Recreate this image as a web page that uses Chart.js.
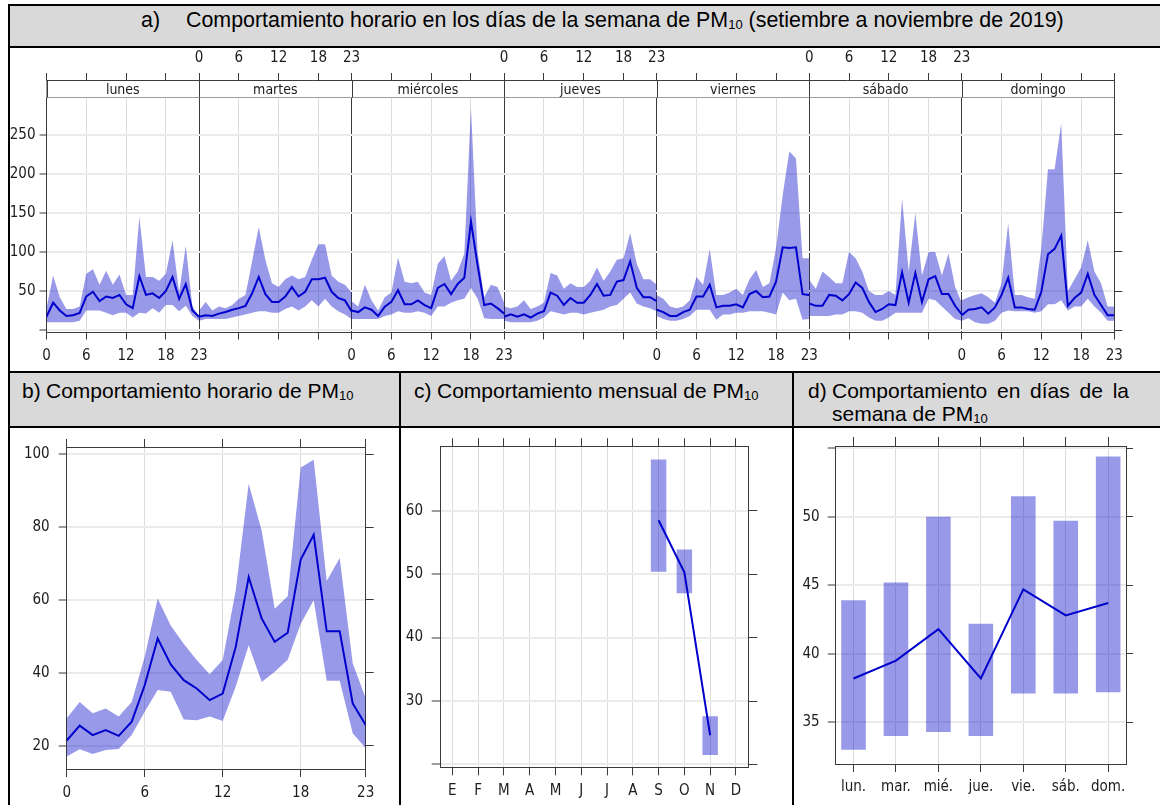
<!DOCTYPE html>
<html lang="es">
<head>
<meta charset="utf-8">
<title>PM10 – comportamiento horario, mensual y semanal</title>
<script src="https://cdn.jsdelivr.net/npm/chart.js@4.4.1/dist/chart.umd.min.js"></script>
<style>
  html, body { margin: 0; padding: 0; background: #fff; }
  body { position: relative; width: 1160px; height: 805px; overflow: hidden;
         font-family: "Liberation Sans", Arial, sans-serif; color: #000; }
  .fill { position: absolute; background: #d9d9d9; }
  .rule { position: absolute; background: #000; }
  .head { position: absolute; font-size: 21px; line-height: 24px; white-space: nowrap; }
  .big { font-size: 21.4px; }
  .sub { font-size: 13px; position: relative; top: 2px; }
  .just { text-align: justify; text-align-last: justify; white-space: normal; }
  canvas { position: absolute; }
</style>
</head>
<body>

<!-- cabeceras grises -->
<div class="fill" style="left:8px;top:4px;width:1152px;height:43px"></div>
<div class="fill" style="left:8px;top:372px;width:1152px;height:55px"></div>

<!-- bordes de la tabla -->
<div class="rule" style="left:8px;top:4px;width:1152px;height:2px"></div>
<div class="rule" style="left:8px;top:46px;width:1152px;height:2px"></div>
<div class="rule" style="left:8px;top:4px;width:2px;height:801px"></div>
<div class="rule" style="left:8px;top:371px;width:1152px;height:2px"></div>
<div class="rule" style="left:8px;top:426px;width:1152px;height:2px"></div>
<div class="rule" style="left:399px;top:371px;width:2px;height:434px"></div>
<div class="rule" style="left:792px;top:371px;width:2px;height:434px"></div>

<!-- títulos -->
<div class="head big" style="left:141px;top:8px">a)</div>
<div class="head big" style="left:186px;top:8px">Comportamiento horario en los días de la semana de PM<span class="sub">10</span> (setiembre a noviembre de 2019)</div>
<div class="head" style="left:22px;top:379px">b)</div>
<div class="head" style="left:46px;top:379px">Comportamiento horario de PM<span class="sub">10</span></div>
<div class="head" style="left:414px;top:379px">c)</div>
<div class="head" style="left:437px;top:379px">Comportamiento mensual de PM<span class="sub">10</span></div>
<div class="head" style="left:808px;top:379px">d)</div>
<div class="head just" style="left:832px;top:379px;width:297px">Comportamiento en días de la</div>
<div class="head" style="left:832px;top:402px">semana de PM<span class="sub">10</span></div>

<canvas id="cSemanaHora" width="1146" height="322" style="left:10px;top:49px;width:1146px;height:322px"></canvas>
<canvas id="cHorario" width="388" height="374" style="left:10px;top:429px;width:388px;height:374px"></canvas>
<canvas id="cMensual" width="389" height="374" style="left:402px;top:429px;width:389px;height:374px"></canvas>
<canvas id="cSemanal" width="363" height="374" style="left:795px;top:429px;width:363px;height:374px"></canvas>

<script>
// ---------- a) PM10 por hora y día de la semana: media e intervalo ----------
const horas = [0,1,2,3,4,5,6,7,8,9,10,11,12,13,14,15,16,17,18,19,20,21,22,23];
const horasEje = [0, 6, 12, 18];
const dias = ['lunes', 'martes', 'miércoles', 'jueves', 'viernes', 'sábado', 'domingo'];

const lunesMedia  = [17,35,25,18,19,22,43,49,37,43,41,45,33,28,69,45,47,41,50,68,40,59,25,17];
const lunesSup    = [28,70,42,27,27,30,72,78,58,76,58,71,45,45,145,68,68,63,72,115,48,108,30,18];
const lunesInf    = [10,10,10,10,10,12,25,25,25,22,19,22,22,16,22,21,28,22,32,32,24,31,18,12];

const martesMedia = [17,19,18,21,23,26,28,31,47,68,46,36,36,43,55,43,49,65,65,67,49,41,38,24];
const martesSup   = [25,36,25,30,28,32,40,45,88,132,90,60,55,65,70,65,68,90,110,110,70,62,58,48];
const martesInf   = [12,14,14,14,14,16,18,20,22,24,24,22,22,27,30,25,30,38,30,40,30,24,20,14];

const miercolesMedia = [25,23,29,26,18,30,36,51,33,33,38,32,28,54,59,46,59,67,139,83,32,34,28,21];
const miercolesSup   = [37,30,58,38,25,42,48,93,62,60,62,48,45,85,95,63,75,98,285,100,42,58,55,35];
const miercolesInf   = [14,14,14,14,14,18,20,24,22,22,24,22,18,30,30,35,38,40,54,40,15,14,14,14];

const juevesMedia = [17,20,17,20,16,21,24,48,44,32,41,35,35,45,59,44,45,62,64,88,54,42,42,37];
const juevesSup   = [30,28,30,38,27,30,35,73,70,53,60,55,55,63,80,63,75,90,92,124,85,65,65,58];
const juevesInf   = [12,10,10,10,10,12,16,24,22,20,22,22,20,22,24,26,30,32,40,48,34,30,28,24];

const viernesMedia = [26,23,18,18,23,26,43,43,58,29,31,31,33,29,46,50,42,43,62,106,105,106,46,45];
const viernesSup   = [45,40,30,28,30,38,68,58,104,45,45,48,53,45,65,77,55,60,105,173,229,220,92,92];
const viernesInf   = [18,14,12,12,14,18,26,26,26,13,20,20,22,22,24,24,24,22,20,48,38,40,13,14];

const sabadoMedia = [34,31,31,45,44,38,46,61,54,36,23,27,33,32,74,35,73,36,65,69,46,46,31,20];
const sabadoSup   = [64,53,75,68,60,60,100,92,75,50,45,45,50,45,169,75,150,70,100,100,70,98,55,35];
const sabadoInf   = [18,18,18,18,20,20,24,24,22,16,12,12,16,22,22,22,22,22,40,38,30,22,14,12];

const domingoMedia = [19,26,27,29,21,29,45,67,29,29,27,26,49,97,104,121,31,41,48,72,45,32,19,19];
const domingoSup   = [38,42,45,47,42,35,60,137,45,45,42,40,105,206,206,265,50,65,80,115,75,60,30,30];
const domingoInf   = [12,15,10,8,8,12,22,25,24,24,24,22,24,33,33,38,25,30,30,40,30,22,12,12];

// ---------- b) PM10 horario ----------
const horarioMedia = [21.4,25.5,22.9,24.3,22.7,26.6,36.6,49.4,42.3,38.0,35.7,32.5,34.3,47.1,66.3,54.9,48.5,51.0,71.1,77.9,51.4,51.4,31.6,25.7];
const horarioSup   = [27.5,32.0,28.9,30.2,28.0,32.0,44.4,60.4,53.0,48.0,43.5,39.6,43.5,62.6,91.9,79.0,57.6,61.0,96.4,98.5,65.2,71.5,42.6,33.0];
const horarioInf   = [17.0,19.0,17.7,18.8,19.1,22.9,29.3,35.3,34.8,27.2,27.0,28.0,26.8,36.2,47.6,37.5,40.3,43.6,53.5,59.9,37.8,37.8,23.4,19.3];
const horarioEje   = [0, 6, 12, 18, 23];

// ---------- c) PM10 mensual ----------
const meses = ['E','F','M','A','M','J','J','A','S','O','N','D'];
const mesesMedidos = [9, 10, 11];
const mensualMedia = [58.5, 50.3, 24.6];
const mensualSup   = [68.1, 53.9, 27.6];
const mensualInf   = [50.4, 47.0, 21.5];

// ---------- d) PM10 por día de la semana ----------
const diasAbr = ['lun.','mar.','mié.','jue.','vie.','sáb.','dom.'];
const semanalMedia = [38.2, 39.5, 41.8, 38.2, 44.7, 42.8, 43.7];
const semanalSup   = [43.9, 45.2, 50.0, 42.2, 51.5, 49.7, 54.4];
const semanalInf   = [33.0, 34.0, 34.3, 34.0, 37.1, 37.1, 37.2];

// ---------- estilo común ----------
const TICK_FONT = { family: '"Liberation Sans Narrow","Arial Narrow","DejaVu Sans Condensed","Liberation Sans",Arial,sans-serif', size: 15 };
const TXT = '#1c1c1c';
const DARK = '#3a3a3a';
const GRID_V = '#dcdcdc';
const GRID_H = '#ebebeb';
const BAND = 'rgba(0,0,200,0.4)';
const LINE = '#0000cc';

const baseOptions = {
  responsive: false,
  animation: false,
  devicePixelRatio: 1,
  events: [],
  layout: { padding: 0 },
  plugins: { legend: { display: false }, tooltip: { enabled: false }, title: { display: false } },
  elements: { point: { radius: 0 }, line: { tension: 0 } }
};

// eje lineal con marcas fijas y tamaño fijo (para colocar el área de trazado)
function eje(o) {
  const horizontal = o.position === 'top' || o.position === 'bottom';
  return {
    type: 'linear', position: o.position, min: o.min, max: o.max, bounds: 'data', offset: false,
    afterBuildTicks: s => { s.ticks = o.values.map(v => ({ value: v })); },
    afterFit: s => { if (horizontal) s.height = o.size; else s.width = o.size; },
    ticks: {
      autoSkip: false, maxRotation: 0, minRotation: 0, padding: o.padding ?? 4,
      color: TXT, font: TICK_FONT, callback: o.label || (() => '')
    },
    grid: {
      display: true, offset: false, drawOnChartArea: !!o.gridColor,
      color: o.gridColor || GRID_H, lineWidth: o.gridWidth || 1,
      drawTicks: true, tickLength: o.tickLength ?? 7, tickColor: DARK, tickWidth: 1
    },
    border: { display: true, color: DARK, width: 1 }
  };
}

function banda(xs, sup, inf) {
  return [
    { type: 'line', data: xs.map((x, i) => ({ x, y: sup[i] })), borderWidth: 0, borderColor: 'rgba(0,0,0,0)',
      backgroundColor: BAND, fill: '+1', pointRadius: 0, order: 2 },
    { type: 'line', data: xs.map((x, i) => ({ x, y: inf[i] })), borderWidth: 0, borderColor: 'rgba(0,0,0,0)',
      fill: false, pointRadius: 0, order: 2 }
  ];
}
function linea(xs, ys) {
  return { type: 'line', data: xs.map((x, i) => ({ x, y: ys[i] })), borderColor: LINE, borderWidth: 2,
           fill: false, pointRadius: 0, order: 0 };
}

// ---------- a) ----------
const mediasDia = [lunesMedia, martesMedia, miercolesMedia, juevesMedia, viernesMedia, sabadoMedia, domingoMedia];
const supDia    = [lunesSup, martesSup, miercolesSup, juevesSup, viernesSup, sabadoSup, domingoSup];
const infDia    = [lunesInf, martesInf, miercolesInf, juevesInf, viernesInf, sabadoInf, domingoInf];
const PASO = 23; // cada franja abarca de la hora 0 a la 23

const datasetsA = [];
dias.forEach((d, k) => {
  const xs = horas.map(h => k * PASO + h);
  datasetsA.push(...banda(xs, supDia[k], infDia[k]));
  datasetsA.push(linea(xs, mediasDia[k]));
});

const marcasA = [];
dias.forEach((d, k) => horasEje.forEach(h => marcasA.push(k * PASO + h)));
marcasA.push(dias.length * PASO);

function etiquetaHora(v, visibles) {
  const k = Math.floor(v / PASO), h = v - k * PASO;
  if (h === 0) {
    if (k < dias.length && visibles.includes(k)) return '0';
    if (k > 0 && visibles.includes(k - 1)) return '23';
    return '';
  }
  return visibles.includes(k) ? String(h) : '';
}

const franjaDias = {
  id: 'franjaDias',
  afterDraw(chart) {
    const { ctx, chartArea: a, scales: { x } } = chart;
    const alto = 17, y0 = Math.round(a.top - alto) + 0.5, y1 = Math.round(a.top) + 0.5;
    ctx.save();
    ctx.fillStyle = '#fff';
    ctx.fillRect(a.left, y0, a.right - a.left, y1 - y0);
    ctx.strokeStyle = DARK; ctx.lineWidth = 1;
    ctx.beginPath();
    ctx.moveTo(a.left, y0); ctx.lineTo(a.right, y0);
    for (let k = 0; k <= dias.length; k++) {
      const px = Math.round(x.getPixelForValue(k * PASO)) + 0.5;
      ctx.moveTo(px, y0); ctx.lineTo(px, y1);
    }
    ctx.stroke();
    ctx.fillStyle = TXT;
    ctx.font = '14px ' + TICK_FONT.family;
    ctx.textAlign = 'center'; ctx.textBaseline = 'middle';
    dias.forEach((d, k) => ctx.fillText(d, x.getPixelForValue(k * PASO + PASO / 2), (y0 + y1) / 2 + 1));
    ctx.restore();
  }
};

new Chart(document.getElementById('cSemanaHora'), {
  type: 'line',
  data: { datasets: datasetsA },
  options: {
    ...baseOptions,
    scales: {
      x: eje({ position: 'bottom', min: 0, max: dias.length * PASO, values: marcasA, size: 38.5, padding: 8,
               tickLength: 7, label: v => etiquetaHora(v, [0, 2, 4, 6]),
               gridColor: c => (c.tick && c.tick.value % PASO === 0) ? DARK : GRID_V }),
      xArriba: eje({ position: 'top', min: 0, max: dias.length * PASO, values: marcasA, size: 48, padding: 6,
                     tickLength: 24, label: v => etiquetaHora(v, [1, 3, 5]) }),
      y: eje({ position: 'left', min: -3.2, max: 298.7, values: [0, 50, 100, 150, 200, 250], size: 36.5,
               padding: 4, tickLength: 7, label: v => (v === 0 ? '' : String(v)), gridColor: GRID_H, gridWidth: 2 }),
      yDerecha: eje({ position: 'right', min: -3.2, max: 298.7, values: [0, 50, 100, 150, 200, 250], size: 41.7,
                      tickLength: 8 })
    }
  },
  plugins: [franjaDias]
});

// ---------- b) ----------
new Chart(document.getElementById('cHorario'), {
  type: 'line',
  data: { datasets: [...banda(horas, horarioSup, horarioInf), linea(horas, horarioMedia)] },
  options: {
    ...baseOptions,
    scales: {
      x: eje({ position: 'bottom', min: 0, max: 23, values: horarioEje, size: 34, padding: 6.7, tickLength: 8,
               label: v => String(v), gridColor: GRID_V }),
      xArriba: eje({ position: 'top', min: 0, max: 23, values: horarioEje, size: 17, tickLength: 8 }),
      y: eje({ position: 'left', min: 13.6, max: 102, values: [20, 40, 60, 80, 100], size: 56.7, padding: 9,
               tickLength: 8, label: v => String(v), gridColor: GRID_H, gridWidth: 2 }),
      yDerecha: eje({ position: 'right', min: 13.6, max: 102, values: [20, 40, 60, 80, 100], size: 32.3, tickLength: 8 })
    }
  }
});

// ---------- c) ----------
const posMeses = meses.map((m, i) => i + 1);
new Chart(document.getElementById('cMensual'), {
  type: 'bar',
  data: {
    datasets: [
      { type: 'bar', data: mesesMedidos.map((m, i) => ({ x: m, y: [mensualInf[i], mensualSup[i]] })),
        backgroundColor: BAND, borderWidth: 0, borderSkipped: false, categoryPercentage: 1, barPercentage: 0.6, order: 2 },
      linea(mesesMedidos, mensualMedia)
    ]
  },
  options: {
    ...baseOptions,
    scales: {
      x: eje({ position: 'bottom', min: 0.52, max: 12.48, values: posMeses, size: 35.7, padding: 6.4, tickLength: 8,
               label: v => meses[v - 1], gridColor: GRID_V }),
      xArriba: eje({ position: 'top', min: 0.52, max: 12.48, values: posMeses, size: 12.7, tickLength: 8.5 }),
      y: eje({ position: 'left', min: 19.55, max: 70.1, values: [20, 30, 40, 50, 60], size: 38, padding: 8.7,
               tickLength: 8.3, label: v => (v === 20 ? '' : String(v)), gridColor: GRID_H, gridWidth: 2 }),
      yDerecha: eje({ position: 'right', min: 19.55, max: 70.1, values: [20, 30, 40, 50, 60], size: 42.7, tickLength: 9 })
    }
  }
});

// ---------- d) ----------
const posDias = diasAbr.map((d, i) => i);
new Chart(document.getElementById('cSemanal'), {
  type: 'bar',
  data: {
    datasets: [
      { type: 'bar', data: posDias.map(i => ({ x: i, y: [semanalInf[i], semanalSup[i]] })),
        backgroundColor: BAND, borderWidth: 0, borderSkipped: false, categoryPercentage: 1, barPercentage: 0.58, order: 2 },
      linea(posDias, semanalMedia)
    ]
  },
  options: {
    ...baseOptions,
    scales: {
      x: eje({ position: 'bottom', min: -0.42, max: 6.42, values: posDias, size: 39, padding: 5.7, tickLength: 8,
               label: v => diasAbr[v], gridColor: GRID_V }),
      xArriba: eje({ position: 'top', min: -0.42, max: 6.42, values: posDias, size: 17, tickLength: 9 }),
      y: eje({ position: 'left', min: 31.96, max: 55.16, values: [35, 40, 45, 50, 55], size: 40.7, padding: 8,
               tickLength: 8, label: v => (v === 55 ? '' : String(v)), gridColor: GRID_H, gridWidth: 2 }),
      yDerecha: eje({ position: 'right', min: 31.96, max: 55.16, values: [35, 40, 45, 50, 55], size: 32, tickLength: 7 })
    }
  }
});
</script>
</body>
</html>
